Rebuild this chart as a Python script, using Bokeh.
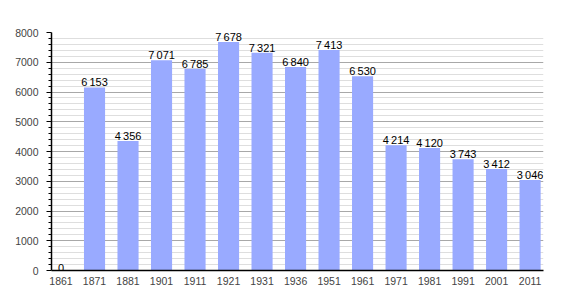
from bokeh.plotting import figure
from bokeh.models import FixedTicker, Range1d, ColumnDataSource, LabelSet
from bokeh.core.properties import value
from bokeh.embed import file_html
from bokeh.resources import INLINE

years = ["1861", "1871", "1881", "1901", "1911", "1921", "1931", "1936",
         "1951", "1961", "1971", "1981", "1991", "2001", "2011"]
population = [0, 6153, 4356, 7071, 6785, 7678, 7321, 6840, 7413, 6530,
              4214, 4120, 3743, 3412, 3046]
y_major_ticks = [0, 1000, 2000, 3000, 4000, 5000, 6000, 7000, 8000]

idx = list(range(len(years)))
labels = [f"{v:,}".replace(",", "\u2009") for v in population]
src = ColumnDataSource(dict(x=idx, top=population, label=labels))

p = figure(width=570, height=300, output_backend="svg", toolbar_location=None,
           x_range=Range1d(-0.284, 14.40), y_range=Range1d(0, 8000),
           min_border_left=51, min_border_right=27, min_border_top=32,
           min_border_bottom=30)
p.outline_line_color = None
p.background_fill_color = "white"
p.border_fill_color = "white"

p.vbar(x="x", top="top", width=0.63, bottom=0, source=src,
       fill_color="#99aaff", line_color=None)

lbl = LabelSet(x="x", y="top", text="label", source=src, text_align="center",
               text_baseline="bottom", y_offset=-1,
               text_font_size=value("11px"),
               text_font=value("Liberation Sans"), text_color="black")
p.add_layout(lbl)

# axes
p.xaxis.ticker = FixedTicker(ticks=idx)
p.xaxis.major_label_overrides = {i: y for i, y in enumerate(years)}
p.xaxis.major_tick_line_color = None
p.xaxis.minor_tick_line_color = None
p.xaxis.axis_line_color = "black"
p.xaxis.axis_line_width = 1.5
p.xaxis.major_label_text_font = "Liberation Sans"
p.xaxis.major_label_text_font_size = "10.5px"
p.xaxis.major_label_standoff = 0

minor = [v for v in range(0, 8001, 200) if v % 1000 != 0]
p.yaxis.ticker = FixedTicker(ticks=y_major_ticks, minor_ticks=minor)
p.yaxis.axis_line_color = "black"
p.yaxis.axis_line_width = 1.5
p.yaxis.major_tick_in = 0
p.yaxis.major_tick_out = 5
p.yaxis.minor_tick_in = 0
p.yaxis.minor_tick_out = 3
p.yaxis.major_tick_line_color = "black"
p.yaxis.minor_tick_line_color = "black"
p.yaxis.major_label_text_font = "Liberation Sans"
p.yaxis.major_label_text_font_size = "10.5px"
p.yaxis.major_label_standoff = 8

p.xgrid.grid_line_color = None
p.ygrid.grid_line_color = "#a8a8a8"
p.ygrid.minor_grid_line_color = "#dedede"
p.ygrid.level = "underlay"

open("out.html", "w").write(file_html(p, INLINE))
